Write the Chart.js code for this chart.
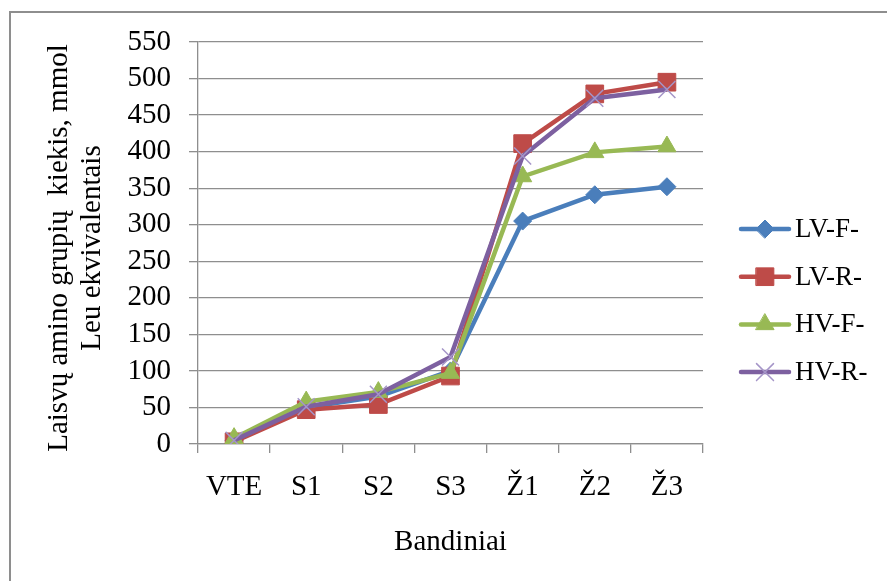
<!DOCTYPE html>
<html>
<head>
<meta charset="utf-8">
<script src="https://cdn.jsdelivr.net/npm/chart.js@4/dist/chart.umd.min.js"></script>
<style>
  body { margin: 0; background: #fff; overflow: hidden; }
  #myChart { position: absolute; left: 0; top: 0; }
  .frame { position: absolute; left: 9px; top: 11px; width: 900px; height: 600px;
           border: 2px solid #8e8e8e; pointer-events: none; }
</style>
</head>
<body>
<canvas id="myChart" width="887" height="581"></canvas>
<div class="frame"></div>
<script>
// kategorijos ir reikšmės
const categories = ["VTE", "S1", "S2", "S3", "Ž1", "Ž2", "Ž3"];
const lvF = [5, 50, 65, 100, 305, 341, 352];
const lvR = [3, 47, 54, 93, 411, 479, 495];
const hvF = [8, 58, 71, 97, 366, 399, 407];
const hvR = [5, 51, 68, 119, 394, 473, 485];
const seriesNames = ["LV-F-", "LV-R-", "HV-F-", "HV-R-"];
const yTitleLines = ["Laisvų amino grupių  kiekis, mmol", "Leu ekvivalentais"];
const xTitle = "Bandiniai";

const serif = "'Liberation Serif', 'Times New Roman', serif";

const styles = [
  { color: "#4A7EBB", point: "rectRot", r: 9, pointColor: "#4A7EBB", pbw: 1 },
  { color: "#BE4B48", point: "rect", r: 12.5, pointColor: "#BE4B48", pbw: 1 },
  { color: "#98B954", point: "triangle", r: 10.5, pointColor: "#98B954", pbw: 1 },
  { color: "#7D60A0", point: "crossRot", r: 12, pointColor: "#A595C8", pbw: 1.5 },
];
const values = [lvF, lvR, hvF, hvR];

const datasets = values.map((v, i) => ({
  label: seriesNames[i],
  data: v,
  borderColor: styles[i].color,
  backgroundColor: styles[i].pointColor,
  borderWidth: 4.5,
  pointStyle: styles[i].point,
  pointRadius: styles[i].r,
  pointBackgroundColor: styles[i].pointColor,
  pointBorderColor: styles[i].pointColor,
  pointBorderWidth: styles[i].pbw,
  tension: 0,
  order: 4 - i,
}));

// ašių pavadinimai ir legenda
const extras = {
  id: "extras",
  afterDraw(chart) {
    const ctx = chart.ctx;
    const area = chart.chartArea;
    ctx.save();
    ctx.fillStyle = "#000";
    ctx.font = "29px " + serif;
    ctx.textAlign = "center";
    ctx.textBaseline = "alphabetic";
    ctx.fillText(xTitle, (area.left + area.right) / 2, 550);

    ctx.save();
    ctx.translate(0, 248);
    ctx.rotate(-Math.PI / 2);
    ctx.fillText(yTitleLines[0], 0, 67);
    ctx.fillText(yTitleLines[1], 0, 100);
    ctx.restore();

    ctx.font = "27px " + serif;
    ctx.textAlign = "left";
    ctx.textBaseline = "middle";
    seriesNames.forEach((name, i) => {
      const y = 229 + i * 47.7;
      const s = styles[i];
      ctx.strokeStyle = s.color;
      ctx.lineWidth = 4.5;
      ctx.lineCap = "round";
      ctx.beginPath();
      ctx.moveTo(741, y);
      ctx.lineTo(789, y);
      ctx.stroke();
      ctx.fillStyle = s.pointColor;
      ctx.strokeStyle = s.pointColor;
      ctx.lineWidth = s.pbw;
      Chart.helpers.drawPoint(ctx, { pointStyle: s.point, radius: s.r, rotation: 0, borderWidth: s.pbw }, 765, y);
      ctx.fillStyle = "#000";
      ctx.fillText(name, 795, y + 1);
    });
    ctx.restore();
  },
};

const config = {
  type: "line",
  data: { labels: categories, datasets },
  options: {
    responsive: false,
    animation: false,
    devicePixelRatio: 1,
    layout: { padding: { left: 0, top: 42, right: 184, bottom: 0 } },
    plugins: { legend: { display: false }, tooltip: { enabled: false } },
    scales: {
      x: {
        offset: true,
        grid: { offset: true, drawOnChartArea: false, drawTicks: true, tickLength: 9, color: "#8e8e8e", lineWidth: 1.3 },
        border: { color: "#8e8e8e", width: 1.3 },
        ticks: { color: "#000", font: { family: serif, size: 29 }, padding: 17, maxRotation: 0, autoSkip: false },
        afterFit: (s) => { s.height = 137; },
      },
      y: {
        min: 0,
        max: 550,
        ticks: { stepSize: 50, autoSkip: false, color: "#000", font: { family: serif, size: 29 }, padding: 18 },
        grid: { color: "#8e8e8e", lineWidth: 1.3, tickLength: 9 },
        border: { color: "#8e8e8e", width: 1.3 },
        afterFit: (s) => { s.width = 198; },
      },
    },
  },
  plugins: [extras],
};

const myChart = new Chart(document.getElementById("myChart"), config);
</script>
</body>
</html>
